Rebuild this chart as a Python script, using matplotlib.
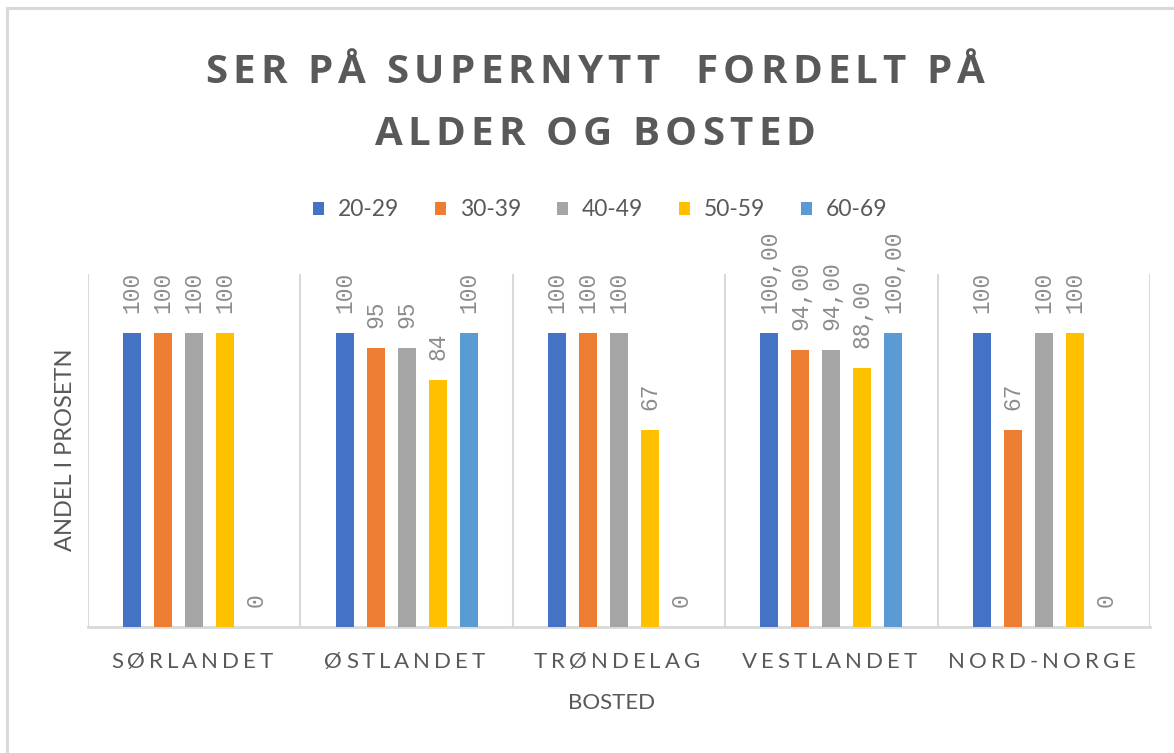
import matplotlib
matplotlib.use("Agg")
import matplotlib.pyplot as plt
import matplotlib.transforms as mtransforms
from matplotlib.font_manager import FontProperties, findfont, get_font
from matplotlib.patches import Patch, Rectangle

# data
categories = ["SØRLANDET", "ØSTLANDET", "TRØNDELAG", "VESTLANDET", "NORD-NORGE"]
age_groups = ["20-29", "30-39", "40-49", "50-59", "60-69"]
share_20_29 = [100, 100, 100, 100, 100]
share_30_39 = [100, 95, 100, 94, 67]
share_40_49 = [100, 95, 100, 94, 100]
share_50_59 = [100, 84, 67, 88, 100]
share_60_69 = [0, 100, 0, 100, 0]
label_decimals = [0, 0, 0, 2, 0]

series = [share_20_29, share_30_39, share_40_49, share_50_59, share_60_69]
colors = ["#4472C4", "#ED7D31", "#A5A5A5", "#FFC000", "#5B9BD5"]

W, H, DPI = 1174, 753, 100
TEXT = "#595959"
GRID = "#D9D9D9"


def advances(text, prop):
    font = get_font(findfont(prop))
    font.set_size(prop.get_size_in_points(), DPI)
    return [font.load_char(ord(c)).linearHoriAdvance / 65536 for c in text]


def spaced_text(fig, x, y, text, prop, spacing, color, trailing=True):
    # draw text with letter spacing, x/y in image pixels (y from top)
    adv = advances(text, prop)
    total = sum(adv) + spacing * (len(text) if trailing else len(text) - 1)
    pen = x - total / 2
    for ch, a in zip(text, adv):
        if ch != " ":
            fig.text(pen, H - y, ch, fontproperties=prop, color=color,
                     ha="left", va="baseline",
                     transform=mtransforms.IdentityTransform())
        pen += a + spacing


def spacing_for(text, prop, width, trailing=False):
    adv = advances(text, prop)
    n = len(text) if trailing else len(text) - 1
    return (width - sum(adv)) / n


fig = plt.figure(figsize=(W / DPI, H / DPI), dpi=DPI)
fig.patch.set_facecolor("white")

# chart area border (cropped at right and bottom)
fig.add_artist(Rectangle((7 / W, -0.1), 1.2, (H - 8) / H + 0.1,
                         transform=fig.transFigure, fill=False,
                         edgecolor=GRID, linewidth=2.2))

ax = fig.add_axes([88 / W, (H - 627) / H, (1150 - 88) / W, (627 - 274) / H])
ax.set_xlim(-0.5, len(categories) - 0.5)
ax.set_ylim(0, 120)

step = 0.146
width = 0.085
for i, (vals, col) in enumerate(zip(series, colors)):
    xs = [c + (i - 2) * step for c in range(len(categories))]
    ax.bar(xs, vals, width=width, color=col, zorder=3)
    for x, v, d in zip(xs, vals, label_decimals):
        lab = f"{v:.{d}f}".replace(".", ",")
        ax.annotate(lab, xy=(x, v), xytext=(0, 20), textcoords="offset pixels",
                    rotation=90, ha="center", va="bottom",
                    fontfamily="Liberation Mono", fontsize=16.5, color="#8C8C8C")

for b in range(len(categories) + 1):
    ax.axvline(b - 0.5, color=GRID, linewidth=1.5, zorder=1)

for s in ["top", "right", "left"]:
    ax.spines[s].set_visible(False)
ax.spines["bottom"].set_color(GRID)
ax.spines["bottom"].set_linewidth(2)
ax.set_xticks([])
ax.set_yticks([])

# category labels with letter spacing
tick_prop = FontProperties(family="Lato", size=16)
tick_sp = spacing_for("SØRLANDET", tick_prop, 162)
for c, name in enumerate(categories):
    xc = ax.transData.transform((c, 0))[0]
    spaced_text(fig, xc, 668, name, tick_prop, tick_sp, TEXT)

# title
title_prop = FontProperties(family="Open Sans", weight="bold", size=29)
line1 = "SER PÅ SUPERNYTT  FORDELT PÅ"
line2 = "ALDER OG BOSTED"
title_sp = spacing_for(line1, title_prop, 780)
spaced_text(fig, 595, 83, line1, title_prop, title_sp, TEXT, trailing=False)
spaced_text(fig, 595, 145, line2, title_prop, title_sp, TEXT, trailing=False)

# axis titles
fig.text(612 / W, 1 - 703 / H, "BOSTED", ha="center", va="center",
         fontfamily="Lato", fontsize=16, color=TEXT)
fig.text(66 / W, 1 - 450 / H, "ANDEL I PROSETN", ha="center", va="center",
         rotation=90, fontfamily="Lato", fontsize=17, color=TEXT)

# legend
handles = [Patch(facecolor=c, edgecolor="none") for c in colors]
leg = fig.legend(handles, age_groups, loc="center", ncol=5,
                 bbox_to_anchor=(600 / W, 1 - 210 / H), frameon=False,
                 prop={"family": "Lato", "size": 16.5},
                 handlelength=0.5, handleheight=0.5, handletextpad=0.6,
                 columnspacing=1.55, labelcolor=TEXT)

fig.savefig("out.png", dpi=DPI, facecolor="white")
